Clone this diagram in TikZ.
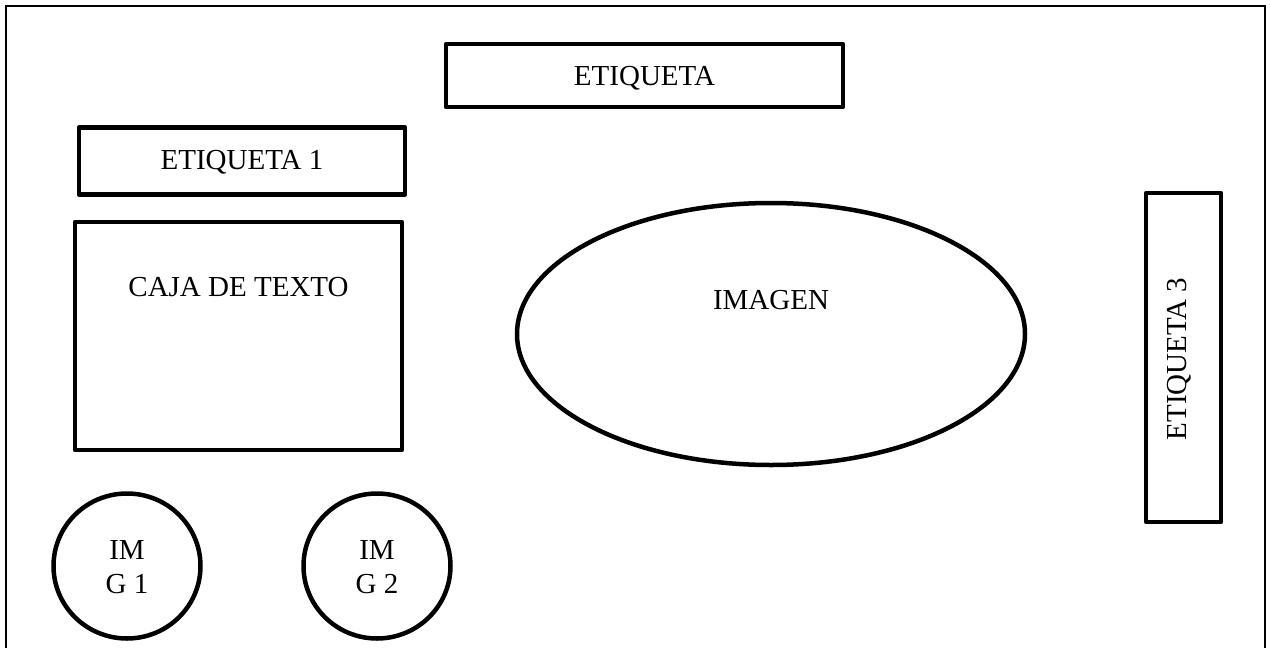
\documentclass[tikz,border=0pt]{standalone}
\usepackage{fontspec}
\setmainfont{Liberation Serif}
\usetikzlibrary{shapes.geometric}
\begin{document}
\begin{tikzpicture}[x=1pt,y=-1pt,
  thick box/.style={draw, line width=4.5pt, line join=round},
  lbl/.style={font=\fontsize{29}{34}\selectfont, inner sep=0pt},
  ]
\useasboundingbox (0,0) rectangle (1270,648);
\clip (0,0) rectangle (1270,648);
\draw[line width=2pt] (6,680) -- (6,6) -- (1265,6) -- (1265,680);
% boxes
\node[thick box, minimum width=397pt, minimum height=63pt] (etq) at (644.5,75.5) {};
\node[lbl] (etqt) at (644.5,78) {ETIQUETA};
\node[thick box, minimum width=326pt, minimum height=67pt] (e1) at (242,161) {};
\node[lbl] (e1t) at (242,162.5) {ETIQUETA 1};
\node[thick box, minimum width=327pt, minimum height=228pt] (caja) at (238.5,336) {};
\node[lbl] (cajat) at (238.5,287) {CAJA DE TEXTO};
\node[thick box, ellipse, minimum width=508pt, minimum height=262pt] (img) at (771,334) {};
\node[lbl] (imgt) at (771,300) {IMAGEN};
\node[thick box, minimum width=75pt, minimum height=329pt] (e3) at (1183.5,357.5) {};
\node[lbl, rotate=90] (e3t) at (1179,359) {ETIQUETA 3};
\node[thick box, ellipse, minimum width=147pt, minimum height=145pt] (c1) at (127,566) {};
\node[lbl, align=center] (c1t) at (127,567) {IM\\G 1};
\node[thick box, ellipse, minimum width=147pt, minimum height=145pt] (c2) at (377,566) {};
\node[lbl, align=center] (c2t) at (377,567) {IM\\G 2};
\end{tikzpicture}
\end{document}
